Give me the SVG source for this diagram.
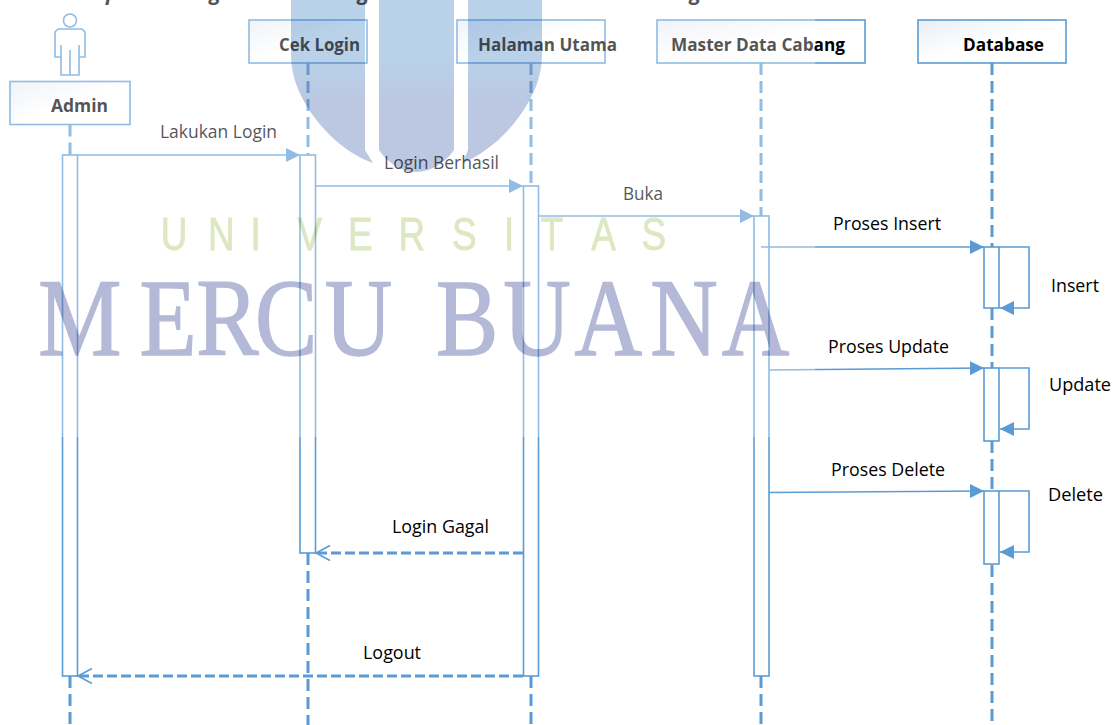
<svg xmlns="http://www.w3.org/2000/svg" width="1113" height="725" viewBox="0 0 1113 725">
<style>
.box{fill:url(#boxFill);stroke:#5B9BD5;stroke-width:1.6}
.act{fill:#fff;stroke:#5B9BD5;stroke-width:1.6}
.life{fill:none;stroke:#5B9BD5;stroke-width:3;stroke-dasharray:12 6}
.msg{fill:none;stroke:#5B9BD5;stroke-width:1.6}
.ret{fill:none;stroke:#5B9BD5;stroke-width:3;stroke-dasharray:10 4}
.head{fill:#5B9BD5}
.open{fill:none;stroke:#5B9BD5;stroke-width:1.6}
.name{font-family:"Open Sans","Liberation Sans",sans-serif;font-weight:700;font-size:18px;fill:#000}
.lab{font-family:"Open Sans","Liberation Sans",sans-serif;font-size:18px;fill:#000}
</style>
<defs>
<linearGradient id="boxFill" x1="0" y1="0" x2="1" y2="1"><stop offset="0" stop-color="#E9EDF6"/><stop offset="0.5" stop-color="#fff"/></linearGradient>
<linearGradient id="col" gradientUnits="userSpaceOnUse" x1="0" y1="60" x2="0" y2="100"><stop offset="0" stop-color="#B9D1E9"/><stop offset="1" stop-color="#BCC8E2"/></linearGradient>
<marker id="solid" markerUnits="userSpaceOnUse" markerWidth="16" markerHeight="16" refX="15" refY="8" orient="auto"><path class="head" d="M1 1L15 8L1 15Z"/></marker>
</defs>
<rect width="1113" height="725" fill="#fff"/>
<text y="0" font-family="'Open Sans','Liberation Sans',sans-serif" font-weight="700" font-style="italic" font-size="21" fill="#000"><tspan x="77">Sequence Diagram</tspan><tspan x="315"> Pengolahan </tspan><tspan x="498">Master Data Cabang</tspan></text>

<g id="connectors">
<path class="life" d="M70 124.500V155M70 676V725"/>
<path class="life" d="M308 63V155M308 553V725"/>
<path class="life" d="M531 63V186M531 676V725"/>
<path class="life" d="M761 63V216M761 676V725"/>
<path class="life" d="M992 63V247M992 308V368M992 441V491M992 565V725"/>
</g>

<g id="node-admin">
<circle class="msg" cx="70" cy="20.500" r="6.500"/>
<path class="msg" d="M58 29H82L85 32V57H79V75H61V57H55V32Z M61 45V57 M79 45V57 M70 50V75"/>
<rect class="box" x="10" y="81.500" width="120" height="43"/>
<text class="name" x="51" y="112" textLength="57" lengthAdjust="spacingAndGlyphs">Admin</text>
<rect class="act" x="62.500" y="155" width="15" height="521"/>
</g>
<g id="node-cek-login">
<rect class="box" x="249" y="20" width="118" height="43"/>
<text class="name" x="279" y="51" textLength="81" lengthAdjust="spacingAndGlyphs">Cek Login</text>
<rect class="act" x="300" y="155" width="15.500" height="398"/>
</g>
<g id="node-halaman-utama">
<rect class="box" x="457" y="20" width="148" height="43"/>
<text class="name" x="478" y="51" textLength="139" lengthAdjust="spacingAndGlyphs">Halaman Utama</text>
<rect class="act" x="523.500" y="186" width="15" height="490"/>
</g>
<g id="node-master-data-cabang">
<rect class="box" x="657" y="20" width="208" height="43"/>
<text class="name" x="671" y="51" textLength="174" lengthAdjust="spacingAndGlyphs">Master Data Cabang</text>
<rect class="act" x="754" y="216" width="15" height="460"/>
</g>
<g id="node-database">
<rect class="box" x="918" y="20" width="148" height="43"/>
<text class="name" x="963" y="51" textLength="81" lengthAdjust="spacingAndGlyphs">Database</text>
<rect class="act" x="984" y="247" width="15" height="61"/>
<rect class="act" x="984" y="368" width="15" height="73"/>
<rect class="act" x="984" y="491" width="15" height="73"/>
</g>

<g id="messages">
<path class="msg" marker-end="url(#solid)" d="M77 155H300"/>
<path class="msg" marker-end="url(#solid)" d="M315.500 186H523"/>
<path class="msg" marker-end="url(#solid)" d="M538.500 216H754"/>
<path class="msg" marker-end="url(#solid)" d="M761 247H984"/>
<path class="msg" marker-end="url(#solid)" d="M769 370L984 368"/>
<path class="msg" marker-end="url(#solid)" d="M769 492.500L984 491"/>
<path class="msg" marker-end="url(#solid)" d="M999 247H1029V308H1000"/>
<path class="msg" marker-end="url(#solid)" d="M999 368H1029V429H1000"/>
<path class="msg" marker-end="url(#solid)" d="M999 491H1029V552H1000"/>
<path class="ret" d="M523 553H318"/><path class="open" d="M330 545.500L316 553L330 560.500"/>
<path class="ret" d="M523 676H80"/><path class="open" d="M92 668.500L78 676L92 683.500"/>
<text class="lab" x="160" y="138" textLength="117" lengthAdjust="spacingAndGlyphs">Lakukan Login</text>
<text class="lab" x="384" y="169" textLength="115" lengthAdjust="spacingAndGlyphs">Login Berhasil</text>
<text class="lab" x="623" y="200" textLength="40" lengthAdjust="spacingAndGlyphs">Buka</text>
<text class="lab" x="833" y="230" textLength="108" lengthAdjust="spacingAndGlyphs">Proses Insert</text>
<text class="lab" x="828" y="353" textLength="121" lengthAdjust="spacingAndGlyphs">Proses Update</text>
<text class="lab" x="831" y="476" textLength="114" lengthAdjust="spacingAndGlyphs">Proses Delete</text>
<text class="lab" x="1051" y="292" textLength="48" lengthAdjust="spacingAndGlyphs">Insert</text>
<text class="lab" x="1049" y="391" textLength="62" lengthAdjust="spacingAndGlyphs">Update</text>
<text class="lab" x="1048" y="501" textLength="55" lengthAdjust="spacingAndGlyphs">Delete</text>
<text class="lab" x="392" y="533" textLength="97" lengthAdjust="spacingAndGlyphs">Login Gagal</text>
<text class="lab" x="363" y="659" textLength="58" lengthAdjust="spacingAndGlyphs">Logout</text>
</g>

<rect x="0" y="0" width="815" height="437" fill="#fff" opacity="0.33"/>

<g id="watermark" style="mix-blend-mode:multiply">
<path fill="url(#col)" d="M291 -5H365V150L373 163C350 155 325 135 308 108C298 92 291 75 291 55Z"/>
<path fill="url(#col)" d="M379 -5H454V150C445 163 430 172 416 172C402 172 388 163 379 150Z"/>
<path fill="url(#col)" d="M468 -5H542V55C542 75 535 92 525 108C510 132 488 152 463 163L468 150Z"/>
<text transform="scale(0.8 1)" y="250" font-family="'Liberation Sans',sans-serif" font-size="46" fill="#DDE8C2" stroke="#DDE8C2" stroke-width="0.8" x="201 260 313 372 435 498 565 630 676 739 802">UNIVERSITAS</text>
<text transform="scale(0.85 1)" y="355" font-family="'Liberation Serif',serif" font-size="110" fill="#B3B9D6" stroke="#B3B9D6" stroke-width="1.4" x="45 164 231 300 382 470 513 592 676 765 849">MERCU BUANA</text>
</g>
</svg>
